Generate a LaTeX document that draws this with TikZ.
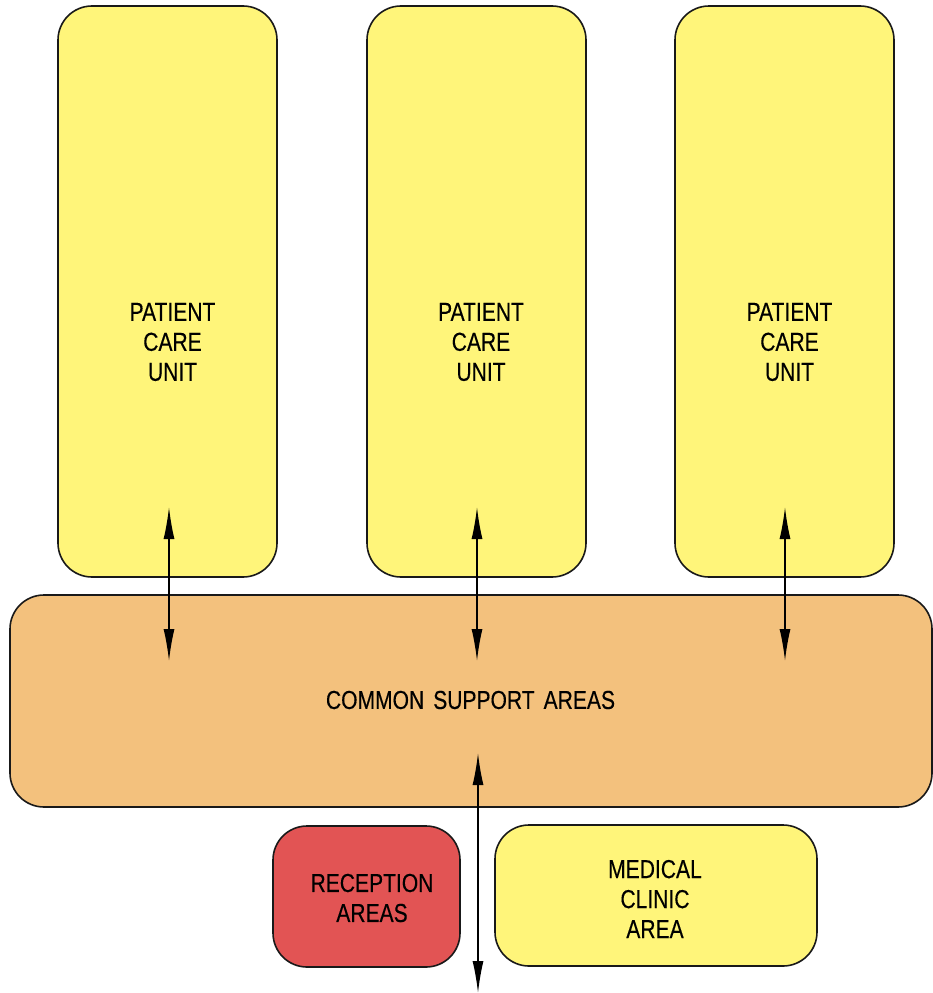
\documentclass[tikz,border=0pt]{standalone}
\usepackage{fontspec}
\setmainfont{Liberation Sans}[FakeStretch=0.81,FakeBold=0.3]
\usetikzlibrary{arrows.meta}
\definecolor{unitYellow}{RGB}{255,245,122}
\definecolor{supportOrange}{RGB}{243,193,125}
\definecolor{receptionRed}{RGB}{226,84,84}
\begin{document}
\begin{tikzpicture}[x=1pt,y=-1pt,
  area/.style={draw=black!90,line width=1.6pt,rounded corners=34pt,inner sep=0pt,outer sep=0pt},
  lbl/.style={align=center,font=\fontsize{26}{30}\selectfont,inner sep=0pt},
  conn/.style={line width=1.6pt,{Latex[length=32pt,width=11pt]}-{Latex[length=32pt,width=11pt]}}]
\useasboundingbox (0,0) rectangle (933,993);
% patient care units
\node[area,fill=unitYellow,minimum width=219pt,minimum height=571pt] (p1) at (167.5,291.5) {};
\node[area,fill=unitYellow,minimum width=219pt,minimum height=571pt] (p2) at (476.5,291.5) {};
\node[area,fill=unitYellow,minimum width=219pt,minimum height=571pt] (p3) at (784.5,291.5) {};
\node[lbl] (p1t) at (172.5,342) {PATIENT\\CARE\\UNIT};
\node[lbl] (p2t) at (481,342) {PATIENT\\CARE\\UNIT};
\node[lbl] (p3t) at (789.5,342) {PATIENT\\CARE\\UNIT};
% common support
\node[area,fill=supportOrange,minimum width=922pt,minimum height=212pt] (cs) at (471,701) {};
\node[lbl] (cst) at (470.5,700) {\spaceskip=9pt COMMON SUPPORT AREAS};
% reception and clinic
\node[area,fill=receptionRed,minimum width=187pt,minimum height=141pt] (rc) at (366.5,896.5) {};
\node[lbl] (rct) at (372,898) {RECEPTION\\AREAS};
\node[area,fill=unitYellow,minimum width=322pt,minimum height=141pt] (mc) at (656,895.5) {};
\node[lbl] (mct) at (655,899) {MEDICAL\\CLINIC\\AREA};
% connectors
\coordinate (a1t) at (169,507); \coordinate (a1b) at (169,661);
\coordinate (a2t) at (477,507); \coordinate (a2b) at (477,661);
\coordinate (a3t) at (785,507); \coordinate (a3b) at (785,661);
\coordinate (a4t) at (478,753); \coordinate (a4b) at (478,993);
\draw[conn] (a1t) -- (a1b);
\draw[conn] (a2t) -- (a2b);
\draw[conn] (a3t) -- (a3b);
\draw[conn] (a4t) -- (a4b);
\end{tikzpicture}
\end{document}
